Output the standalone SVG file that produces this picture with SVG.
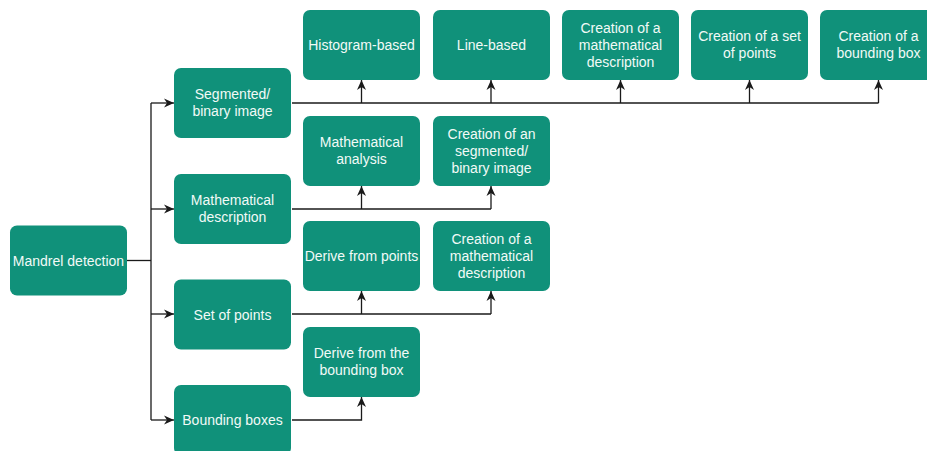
<svg xmlns="http://www.w3.org/2000/svg" width="927" height="451" viewBox="0 0 927 451">
  <style>
    .box { fill: #10917A; stroke: none; }
    .lbl { fill: #F2FAF7; font-family: "Liberation Sans", Arial, Helvetica, sans-serif; font-size: 14px; text-anchor: middle; }
    .edge { fill: none; stroke: #1A1A1A; stroke-width: 1.3; }
  </style>
  <defs>
    <marker id="arrow" viewBox="0 0 10 10" refX="10" refY="5" markerWidth="10" markerHeight="10" markerUnits="userSpaceOnUse" orient="auto">
      <path d="M0,0.5 L10,5 L0,9.5 L3,5 Z" fill="#1A1A1A"/>
    </marker>
  </defs>
  <rect width="927" height="451" fill="#FFFFFF"/>

  <!-- connectors: shared trunks drawn once, arrow stubs on top -->
  <g id="connectors" class="edge">
    <path d="M127,260.5 H151"/>
    <path d="M151,103 V420"/>
    <path d="M151,103 H174" marker-end="url(#arrow)"/>
    <path d="M151,209 H174" marker-end="url(#arrow)"/>
    <path d="M151,314 H174" marker-end="url(#arrow)"/>
    <path d="M151,420 H174" marker-end="url(#arrow)"/>

    <path d="M292,103 H878.5"/>
    <path d="M361.5,103 V80" marker-end="url(#arrow)"/>
    <path d="M491,103 V80" marker-end="url(#arrow)"/>
    <path d="M620.5,103 V80" marker-end="url(#arrow)"/>
    <path d="M749.5,103 V80" marker-end="url(#arrow)"/>
    <path d="M878.5,103 V80" marker-end="url(#arrow)"/>

    <path d="M292,209 H491"/>
    <path d="M361.5,209 V186" marker-end="url(#arrow)"/>
    <path d="M491,209 V186" marker-end="url(#arrow)"/>

    <path d="M292,314 H491"/>
    <path d="M361.5,314 V291" marker-end="url(#arrow)"/>
    <path d="M491,314 V291" marker-end="url(#arrow)"/>

    <path d="M292,420 H361.5 V397" marker-end="url(#arrow)"/>
  </g>

  <!-- root -->
  <g id="mandrel-detection">
    <rect class="box" x="10" y="225.5" width="117" height="70" rx="7"/>
    <text class="lbl" x="68.5" y="265.5">Mandrel detection</text>
  </g>

  <!-- representations -->
  <g id="segmented-binary-image">
    <rect class="box" x="174" y="68" width="117" height="70" rx="7"/>
    <text class="lbl" x="232.5" y="99">Segmented/</text>
    <text class="lbl" x="232.5" y="116">binary image</text>
  </g>
  <g id="mathematical-description">
    <rect class="box" x="174" y="174" width="117" height="70" rx="7"/>
    <text class="lbl" x="232.5" y="205">Mathematical</text>
    <text class="lbl" x="232.5" y="222">description</text>
  </g>
  <g id="set-of-points">
    <rect class="box" x="174" y="279.5" width="117" height="70" rx="7"/>
    <text class="lbl" x="232.5" y="319.5">Set of points</text>
  </g>
  <g id="bounding-boxes">
    <rect class="box" x="174" y="385" width="117" height="70" rx="7"/>
    <text class="lbl" x="232.5" y="425">Bounding boxes</text>
  </g>

  <!-- methods for segmented/binary image -->
  <g id="histogram-based">
    <rect class="box" x="303" y="10" width="117" height="70" rx="7"/>
    <text class="lbl" x="361.5" y="49.5">Histogram-based</text>
  </g>
  <g id="line-based">
    <rect class="box" x="433" y="10" width="117" height="70" rx="7"/>
    <text class="lbl" x="491.5" y="49.5">Line-based</text>
  </g>
  <g id="seg-to-math-description">
    <rect class="box" x="562" y="10" width="117" height="70" rx="7"/>
    <text class="lbl" x="620.5" y="33">Creation of a</text>
    <text class="lbl" x="620.5" y="50">mathematical</text>
    <text class="lbl" x="620.5" y="67">description</text>
  </g>
  <g id="seg-to-set-of-points">
    <rect class="box" x="691" y="10" width="117" height="70" rx="7"/>
    <text class="lbl" x="749.5" y="41">Creation of a set</text>
    <text class="lbl" x="749.5" y="58">of points</text>
  </g>
  <g id="seg-to-bounding-box">
    <rect class="box" x="820" y="10" width="117" height="70" rx="7"/>
    <text class="lbl" x="878.5" y="41">Creation of a</text>
    <text class="lbl" x="878.5" y="58">bounding box</text>
  </g>

  <!-- methods for mathematical description -->
  <g id="mathematical-analysis">
    <rect class="box" x="303" y="116" width="117" height="70" rx="7"/>
    <text class="lbl" x="361.5" y="147">Mathematical</text>
    <text class="lbl" x="361.5" y="164">analysis</text>
  </g>
  <g id="math-to-segmented-image">
    <rect class="box" x="433" y="116" width="117" height="70" rx="7"/>
    <text class="lbl" x="491.5" y="139">Creation of an</text>
    <text class="lbl" x="491.5" y="156">segmented/</text>
    <text class="lbl" x="491.5" y="173">binary image</text>
  </g>

  <!-- methods for set of points -->
  <g id="derive-from-points">
    <rect class="box" x="303" y="221" width="117" height="70" rx="7"/>
    <text class="lbl" x="361.5" y="260.5">Derive from points</text>
  </g>
  <g id="points-to-math-description">
    <rect class="box" x="433" y="221" width="117" height="70" rx="7"/>
    <text class="lbl" x="491.5" y="244">Creation of a</text>
    <text class="lbl" x="491.5" y="261">mathematical</text>
    <text class="lbl" x="491.5" y="278">description</text>
  </g>

  <!-- methods for bounding boxes -->
  <g id="derive-from-bounding-box">
    <rect class="box" x="303" y="327" width="117" height="70" rx="7"/>
    <text class="lbl" x="361.5" y="358">Derive from the</text>
    <text class="lbl" x="361.5" y="375">bounding box</text>
  </g>
</svg>
